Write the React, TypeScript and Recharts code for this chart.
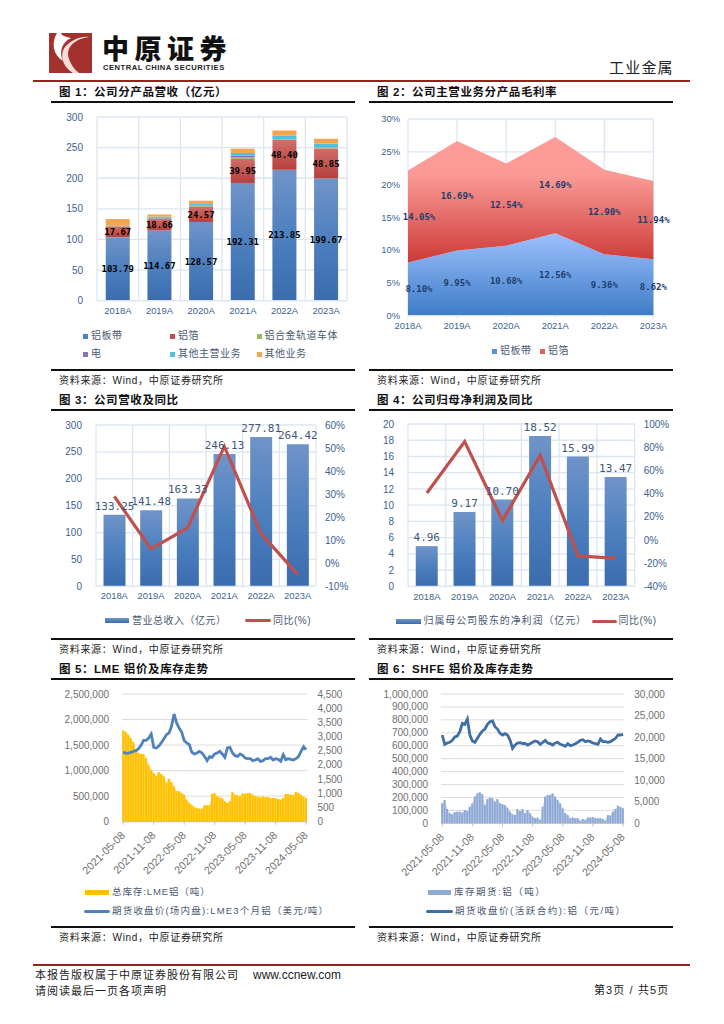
import React from 'react';
import {
  Area,
  Bar,
  CartesianGrid,
  ComposedChart,
  LabelList,
  Line,
  XAxis,
  YAxis,
} from 'recharts';

const years = ['2018A', '2019A', '2020A', '2021A', '2022A', '2023A'];

// chart 1
const foilStrip = [103.79, 114.67, 128.57, 192.31, 213.85, 199.67];
const foil = [17.67, 18.66, 24.57, 39.95, 48.4, 48.85];
const railBody = [1.5, 1, 1.2, 1.5, 1, 1.5];
const power = [0, 1, 1, 3.5, 0.5, 0.5];
const otherMain = [0.3, 2, 2.5, 4, 6, 6];
const otherBiz = [10, 3.5, 5.5, 7, 8.06, 7.9];

// chart 2
const marginStrip = [8.1, 9.95, 10.68, 12.56, 9.36, 8.62];
const marginFoil = [14.05, 16.69, 12.54, 14.69, 12.9, 11.94];

// chart 3
const revenue = [133.25, 141.48, 163.33, 246.13, 277.81, 264.42];
const revenueYoy = [29, 6.2, 15.4, 50.7, 12.9, -4.8];

// chart 4
const profit = [4.96, 9.17, 10.7, 18.52, 15.99, 13.47];
const profitYoy = [40.5, 84.9, 16.7, 73, -13.7, -15.8];

// chart 5
const lmeStock = [
  1788000, 1756000, 1704000, 1638000, 1560000, 1410000, 1345000, 1325000, 1325000, 1247000,
  1116000, 1018000, 953000, 888000, 973000, 933000, 888000, 757000, 842000, 777000,
  692000, 594000, 594000, 561000, 529000, 431000, 366000, 333000, 281000, 268000,
  255000, 255000, 320000, 320000, 320000, 542000, 561000, 496000, 476000, 463000,
  398000, 366000, 398000, 581000, 529000, 516000, 496000, 555000, 542000, 561000,
  561000, 529000, 496000, 490000, 476000, 496000, 476000, 483000, 463000, 463000,
  463000, 444000, 431000, 463000, 542000, 542000, 529000, 516000, 581000, 561000,
  529000, 490000, 463000,
];
const lmePrice = [
  2456, 2409, 2420, 2444, 2479, 2503, 2573, 2691, 2867, 2867,
  2949, 3090, 2620, 2597, 2667, 2785, 2926, 3067, 3126, 3361,
  3795, 3478, 3302, 3161, 2855, 2773, 2714, 2444, 2385, 2420,
  2479, 2420, 2303, 2150, 2291, 2268, 2385, 2420, 2479, 2385,
  2268, 2597, 2620, 2420, 2327, 2303, 2385, 2338, 2244, 2221,
  2221, 2150, 2174, 2221, 2127, 2150, 2221, 2221, 2268, 2174,
  2221, 2197, 2127, 2362, 2186, 2221, 2197, 2174, 2221, 2291,
  2479, 2644, 2538,
];

// chart 6
const shfeStock = [
  154600, 180400, 110800, 77300, 69600, 85000, 90200, 90200, 82500, 103100,
  95300, 128900, 154600, 206200, 231900, 239700, 224200, 141700, 188100, 198400,
  193300, 167500, 188100, 154600, 146900, 141700, 121100, 90200, 69600, 64400,
  110800, 95300, 110800, 77300, 103100, 77300, 51500, 38700, 43800, 25800,
  128900, 206200, 219000, 219000, 231900, 206200, 180400, 154600, 116000, 77300,
  64400, 38700, 43800, 38700, 38700, 20600, 33500, 25800, 43800, 43800,
  49000, 38700, 38700, 38700, 33500, 20600, 64400, 59300, 90200, 110800,
  136600, 126300, 116000,
];
const shfePrice = [
  20485, 18320, 18630, 18784, 19248, 20021, 20253, 21258, 23190, 22958,
  24195, 20485, 19093, 18784, 19712, 20639, 21412, 21876, 22958, 23577,
  23731, 22417, 21876, 20871, 20485, 20794, 20485, 19325, 17393, 18166,
  18630, 18707, 18475, 18552, 18166, 18475, 18784, 19093, 18939, 18320,
  18784, 19248, 18630, 18475, 18166, 18630, 18784, 18320, 18166, 17856,
  18475, 18011, 18166, 18475, 18784, 19248, 19402, 18939, 19093, 18939,
  18630, 18475, 18320, 19557, 18939, 18939, 18784, 18939, 19325, 19712,
  20485, 20485, 20639,
];

const halfMonths: string[] = [];
for (let i = 0; i < lmePrice.length; i++) {
  const m = 4 + Math.floor(i / 2);
  const yy = 2021 + Math.floor(m / 12);
  const mm = String((m % 12) + 1).padStart(2, '0');
  halfMonths.push(`${yy}-${mm}-${i % 2 === 0 ? '08' : '23'}`);
}

const chart1Rows = years.map((year, i) => ({
  year,
  foilStrip: foilStrip[i],
  foil: foil[i],
  railBody: railBody[i],
  power: power[i],
  otherMain: otherMain[i],
  otherBiz: otherBiz[i],
}));
const chart2Rows = years.map((year, i) => ({ year, strip: marginStrip[i], foil: marginFoil[i] }));
const chart3Rows = years.map((year, i) => ({ year, value: revenue[i], yoy: revenueYoy[i] }));
const chart4Rows = years.map((year, i) => ({ year, value: profit[i], yoy: profitYoy[i] }));
const chart5Rows = halfMonths.map((date, i) => ({ date, stock: lmeStock[i], price: lmePrice[i] }));
const chart6Rows = halfMonths.map((date, i) => ({ date, stock: shfeStock[i], price: shfePrice[i] }));

const SANS = '"Liberation Sans", "Noto Sans CJK SC", sans-serif';
const MONO = '"DejaVu Sans Mono", "Liberation Mono", monospace';
const BLUE_TEXT = '#3c5f8f';
const LEGEND_TEXT = '#4a5a72';
const GRID_BLUE = '#dce6f2';
const GRAY_TEXT = '#6f6f6f';

const PAD = { left: 60, right: 45, top: 20, bottom: 70 };

type Plot = { x0: number; x1: number; y0: number; y1: number };

function Frame({ plot, children }: { plot: Plot; children: (size: { width: number; height: number }) => React.ReactNode }) {
  const width = plot.x1 - plot.x0 + PAD.left + PAD.right;
  const height = plot.y1 - plot.y0 + PAD.top + PAD.bottom;
  return (
    <div style={{ position: 'absolute', left: plot.x0 - PAD.left, top: plot.y0 - PAD.top, width, height }}>
      {children({ width, height })}
    </div>
  );
}

const chartMargin = { top: PAD.top, right: 0, bottom: 0, left: 0 };

const bandLines = (count: number) => ({ offset }: any) => {
  const out: number[] = [];
  for (let i = 0; i <= count; i++) out.push(offset.left + (offset.width * i) / count);
  return out;
};

function BlueGradient({ id }: { id: string }) {
  return (
    <linearGradient id={id} x1="0" y1="0" x2="0" y2="1">
      <stop offset="0%" stopColor="#7094c8" />
      <stop offset="50%" stopColor="#4d80bf" />
      <stop offset="100%" stopColor="#3a6cae" />
    </linearGradient>
  );
}

function Title({ x, y, text }: { x: number; y: number; text: string }) {
  return (
    <div style={{ position: 'absolute', left: x, top: y - 9, height: 18, lineHeight: '18px', fontSize: 11.5, fontWeight: 700, letterSpacing: 0.6, color: '#111', whiteSpace: 'nowrap' }}>
      {text}
    </div>
  );
}

function Rule({ x0, x1, y, color = '#111', h = 2 }: { x0: number; x1: number; y: number; color?: string; h?: number }) {
  return <div style={{ position: 'absolute', left: x0, top: y - h / 2, width: x1 - x0, height: h, background: color }} />;
}

function Source({ x, y }: { x: number; y: number }) {
  return (
    <div style={{ position: 'absolute', left: x, top: y - 8, height: 16, lineHeight: '16px', fontSize: 10, letterSpacing: 0.7, color: '#222', whiteSpace: 'nowrap' }}>
      资料来源：Wind，中原证券研究所
    </div>
  );
}

type Swatch = 'square' | 'bar' | 'line';

function Key({ x, y, w, kind, color, text, gap = 3, size = 10, spacing = 0.5 }: { x: number; y: number; w: number; kind: Swatch; color: string; text: string; gap?: number; size?: number; spacing?: number }) {
  const h = kind === 'square' ? w : kind === 'bar' ? 5 : 3;
  return (
    <>
      <div style={{ position: 'absolute', left: x, top: y - h / 2, width: w, height: h, background: color, borderRadius: kind === 'line' ? 1.5 : 0 }} />
      <div style={{ position: 'absolute', left: x + w + gap, top: y - 8, height: 16, lineHeight: '16px', fontSize: size, letterSpacing: spacing, color: LEGEND_TEXT, whiteSpace: 'nowrap' }}>
        {text}
      </div>
    </>
  );
}

const blueBar = 'linear-gradient(#7094c8, #3a6cae)';

function Chart1() {
  const plot = { x0: 96.7, x1: 346.7, y0: 117.3, y1: 301 };
  const labelStyle = { fontFamily: MONO, fontSize: 9, fontWeight: 700, fill: '#000' };
  return (
    <Frame plot={plot}>
      {({ width, height }) => (
        <ComposedChart width={width} height={height} data={chart1Rows} margin={{ ...chartMargin, right: PAD.right }} barCategoryGap="21%">
          <defs>
            <BlueGradient id="c1blue" />
            <linearGradient id="c1red" x1="0" y1="0" x2="0" y2="1">
              <stop offset="0%" stopColor="#d06e6b" />
              <stop offset="100%" stopColor="#b5403c" />
            </linearGradient>
          </defs>
          <CartesianGrid stroke={GRID_BLUE} strokeWidth={1.3} verticalCoordinatesGenerator={bandLines(6)} />
          <XAxis dataKey="year" height={PAD.bottom} tickLine={false} tickSize={0} tickMargin={7} axisLine={{ stroke: GRID_BLUE, strokeWidth: 1.3 }} tick={{ fontSize: 9.4, fill: BLUE_TEXT, fontFamily: SANS }} />
          <YAxis width={PAD.left} domain={[0, 300]} ticks={[0, 50, 100, 150, 200, 250, 300]} tickLine={false} tickSize={0} tickMargin={14} axisLine={false} tick={{ fontSize: 10, fill: BLUE_TEXT, fontFamily: SANS }} />
          <Bar dataKey="foilStrip" stackId="a" fill="url(#c1blue)" isAnimationActive={false}>
            <LabelList dataKey="foilStrip" position="center" style={labelStyle} formatter={(v: number) => v.toFixed(2)} />
          </Bar>
          <Bar dataKey="foil" stackId="a" fill="url(#c1red)" isAnimationActive={false}>
            <LabelList dataKey="foil" position="center" style={labelStyle} formatter={(v: number) => v.toFixed(2)} />
          </Bar>
          <Bar dataKey="railBody" stackId="a" fill="#9bbb59" isAnimationActive={false} />
          <Bar dataKey="power" stackId="a" fill="#8f6fb8" isAnimationActive={false} />
          <Bar dataKey="otherMain" stackId="a" fill="#4bc3e0" isAnimationActive={false} />
          <Bar dataKey="otherBiz" stackId="a" fill="#f8a44c" isAnimationActive={false} />
        </ComposedChart>
      )}
    </Frame>
  );
}

function Chart2() {
  const plot = { x0: 408.3, x1: 653.7, y0: 119, y1: 315.7 };
  const pxPerPoint = (plot.y1 - plot.y0) / 30;
  const marginLabel = (values: number[]) => (props: any) => {
    const { x, y, index } = props;
    const v = values[index];
    const dx = index === 0 ? 11 : 0;
    return (
      <text x={x + dx} y={y + (v / 2) * pxPerPoint} textAnchor="middle" dominantBaseline="central" fontFamily={MONO} fontSize={9} fontWeight={700} fill="#1f3f6e">
        {v.toFixed(2)}%
      </text>
    );
  };
  return (
    <Frame plot={plot}>
      {({ width, height }) => (
        <ComposedChart width={width} height={height} data={chart2Rows} margin={{ ...chartMargin, right: PAD.right }}>
          <defs>
            <linearGradient id="c2blue" x1="0" y1="0" x2="0" y2="1">
              <stop offset="0%" stopColor="#9cc0fd" />
              <stop offset="100%" stopColor="#3f7cc7" />
            </linearGradient>
            <linearGradient id="c2red" x1="0" y1="0" x2="0" y2="1">
              <stop offset="0%" stopColor="#fe9c98" />
              <stop offset="30%" stopColor="#fa9a96" />
              <stop offset="100%" stopColor="#cd3a37" />
            </linearGradient>
          </defs>
          <CartesianGrid stroke={GRID_BLUE} strokeWidth={1.3} />
          <XAxis dataKey="year" scale="point" height={PAD.bottom} tickLine={{ stroke: GRID_BLUE }} tickSize={3} tickMargin={4} axisLine={{ stroke: GRID_BLUE, strokeWidth: 1.3 }} tick={{ fontSize: 9.4, fill: BLUE_TEXT, fontFamily: SANS }} />
          <YAxis width={PAD.left} domain={[0, 30]} ticks={[0, 5, 10, 15, 20, 25, 30]} tickLine={false} tickSize={0} tickMargin={8} axisLine={false} tickFormatter={(v: number) => `${v}%`} tick={{ fontSize: 9.4, fill: BLUE_TEXT, fontFamily: SANS }} />
          <Area dataKey="strip" stackId="m" type="linear" stroke="none" fill="url(#c2blue)" fillOpacity={1} isAnimationActive={false} label={marginLabel(marginStrip)} />
          <Area dataKey="foil" stackId="m" type="linear" stroke="none" fill="url(#c2red)" fillOpacity={1} isAnimationActive={false} label={marginLabel(marginFoil)} />
        </ComposedChart>
      )}
    </Frame>
  );
}

function ValueYoyChart({ plot, rows, gradId, leftTicks, rightTicks, leftMax, labelFormat }: { plot: Plot; rows: any[]; gradId: string; leftTicks: number[]; rightTicks: number[]; leftMax: number; labelFormat: (v: number) => string }) {
  return (
    <Frame plot={plot}>
      {({ width, height }) => (
        <ComposedChart width={width} height={height} data={rows} margin={chartMargin} barCategoryGap="20.5%">
          <defs>
            <BlueGradient id={gradId} />
          </defs>
          <CartesianGrid yAxisId="left" stroke={GRID_BLUE} strokeWidth={1.3} verticalCoordinatesGenerator={bandLines(6)} />
          <XAxis dataKey="year" height={PAD.bottom} tickLine={false} tickSize={0} tickMargin={6.5} axisLine={{ stroke: GRID_BLUE, strokeWidth: 1.3 }} tick={{ fontSize: 9.4, fill: BLUE_TEXT, fontFamily: SANS }} />
          <YAxis yAxisId="left" width={PAD.left} domain={[0, leftMax]} ticks={leftTicks} interval={0} tickLine={false} tickSize={0} tickMargin={14} axisLine={false} tick={{ fontSize: 10, fill: BLUE_TEXT, fontFamily: SANS }} />
          <YAxis yAxisId="right" orientation="right" width={PAD.right} domain={[rightTicks[0], rightTicks[rightTicks.length - 1]]} ticks={rightTicks} interval={0} tickLine={false} tickSize={0} tickMargin={9} axisLine={false} tickFormatter={(v: number) => `${v}%`} tick={{ fontSize: 10, fill: BLUE_TEXT, fontFamily: SANS, textAnchor: 'start' }} />
          <Bar yAxisId="left" dataKey="value" fill={`url(#${gradId})`} isAnimationActive={false}>
            <LabelList dataKey="value" position="top" offset={5} formatter={labelFormat} style={{ fontFamily: MONO, fontSize: 11, fill: '#3f5878' }} />
          </Bar>
          <Line yAxisId="right" dataKey="yoy" type="linear" stroke="#c0504d" strokeWidth={3.2} dot={false} isAnimationActive={false} />
        </ComposedChart>
      )}
    </Frame>
  );
}

function TrendChart({ plot, rows, areaColor, barColor, lineColor, leftTicks, rightTicks, gridColor }: { plot: Plot; rows: any[]; areaColor: string; barColor: string; lineColor: string; leftTicks: number[]; rightTicks: number[]; gridColor: string }) {
  const axisTick = { fontSize: 10, fill: GRAY_TEXT, fontFamily: SANS };
  return (
    <Frame plot={plot}>
      {({ width, height }) => (
        <ComposedChart width={width} height={height} data={rows} margin={chartMargin} barCategoryGap="4%">
          <CartesianGrid yAxisId="left" vertical={false} stroke={gridColor} />
          <XAxis dataKey="date" interval={11} height={PAD.bottom} tickLine={{ stroke: '#bfbfbf' }} tickSize={3} tickMargin={6} axisLine={{ stroke: '#bfbfbf' }} angle={-45} textAnchor="end" tick={{ ...axisTick, fontSize: 10.8, dx: -3 }} />
          <YAxis yAxisId="left" width={PAD.left} domain={[0, leftTicks[leftTicks.length - 1]]} ticks={leftTicks} interval={0} tickLine={false} tickSize={0} tickMargin={13} axisLine={false} tickFormatter={(v: number) => v.toLocaleString('en-US')} tick={axisTick} />
          <YAxis yAxisId="right" orientation="right" width={PAD.right} domain={[0, rightTicks[rightTicks.length - 1]]} ticks={rightTicks} interval={0} tickLine={false} tickSize={0} tickMargin={10} axisLine={false} tickFormatter={(v: number) => v.toLocaleString('en-US')} tick={axisTick} />
          <Area yAxisId="left" dataKey="stock" type="linear" stroke="none" fill={areaColor} fillOpacity={1} isAnimationActive={false} />
          <Bar yAxisId="left" dataKey="stock" fill={barColor} isAnimationActive={false} />
          <Line yAxisId="right" dataKey="price" type="linear" stroke={lineColor} strokeWidth={2.8} dot={false} isAnimationActive={false} />
        </ComposedChart>
      )}
    </Frame>
  );
}

function Logo() {
  return (
    <>
      <svg style={{ position: 'absolute', left: 49, top: 33 }} width={43} height={40} viewBox="0 0 43 40">
        <rect width={43} height={40} fill="#a3322f" />
        <path d="M8 0 C2 10 4 22 14 28 C10 20 12 10 22 5 C16 4 12 2 12 0 Z" fill="#fff" />
        <path d="M40 4 C26 6 16 14 20 26 C22 32 26 37 30 40 L24 40 C14 34 10 22 16 14 C22 7 32 3 40 4 Z" fill="#f2dcd8" />
      </svg>
      <div style={{ position: 'absolute', left: 102, top: 37, height: 27, lineHeight: '27px', fontSize: 27, fontWeight: 900, letterSpacing: 5.5, color: '#111', whiteSpace: 'nowrap' }}>
        中原证券
      </div>
      <div style={{ position: 'absolute', left: 103, top: 64, height: 8, lineHeight: '8px', fontSize: 7.6, fontWeight: 700, letterSpacing: 0.5, color: '#222', whiteSpace: 'nowrap' }}>
        CENTRAL CHINA SECURITIES
      </div>
    </>
  );
}

export default function App() {
  const L0 = 51;
  const L1 = 355;
  const R0 = 369;
  const R1 = 673;
  return (
    <div style={{ position: 'absolute', left: 0, top: 0, width: 724, height: 1024, background: '#fff', overflow: 'hidden', fontFamily: SANS }}>
      <Logo />
      <div style={{ position: 'absolute', left: 609, top: 58, height: 20, lineHeight: '20px', fontSize: 15, letterSpacing: 1.2, color: '#222', whiteSpace: 'nowrap' }}>工业金属</div>
      <Rule x0={33} x1={690} y={81} color="#9c1f1c" h={2} />

      <Title x={59} y={92} text="图 1：公司分产品营收（亿元）" />
      <Title x={377} y={92} text="图 2：公司主营业务分产品毛利率" />
      <Rule x0={L0} x1={L1} y={102} />
      <Rule x0={R0} x1={R1} y={102} />

      <Chart1 />
      <Chart2 />

      <Key x={83} y={336} w={5} kind="square" color="#4f81bd" text="铝板带" />
      <Key x={170} y={336} w={5} kind="square" color="#c0504d" text="铝箔" />
      <Key x={256.5} y={336} w={5} kind="square" color="#9bbb59" text="铝合金轨道车体" />
      <Key x={83} y={354} w={5} kind="square" color="#8f6fb8" text="电" />
      <Key x={170} y={354} w={5} kind="square" color="#4bc3e0" text="其他主营业务" />
      <Key x={256.5} y={354} w={5} kind="square" color="#f8a44c" text="其他业务" />
      <Key x={492} y={351} w={5} kind="square" color="#5a93dd" text="铝板带" />
      <Key x={540} y={351} w={5} kind="square" color="#e0605c" text="铝箔" />

      <Rule x0={L0} x1={L1} y={369.5} />
      <Rule x0={R0} x1={R1} y={369.5} />
      <Source x={59} y={381} />
      <Source x={377} y={381} />

      <Title x={59} y={400} text="图 3：公司营收及同比" />
      <Title x={377} y={400} text="图 4：公司归母净利润及同比" />
      <Rule x0={L0} x1={L1} y={409.5} />
      <Rule x0={R0} x1={R1} y={409.5} />

      <ValueYoyChart
        plot={{ x0: 96, x1: 316, y0: 425, y1: 586.3 }}
        rows={chart3Rows}
        gradId="c3blue"
        leftMax={300}
        leftTicks={[0, 50, 100, 150, 200, 250, 300]}
        rightTicks={[-10, 0, 10, 20, 30, 40, 50, 60]}
        labelFormat={(v: number) => v.toFixed(2)}
      />
      <ValueYoyChart
        plot={{ x0: 408.3, x1: 635, y0: 424.3, y1: 586.7 }}
        rows={chart4Rows}
        gradId="c4blue"
        leftMax={20}
        leftTicks={[0, 2, 4, 6, 8, 10, 12, 14, 16, 18, 20]}
        rightTicks={[-40, -20, 0, 20, 40, 60, 80, 100]}
        labelFormat={(v: number) => v.toFixed(2)}
      />

      <Key x={105} y={620.7} w={24} kind="bar" color={blueBar} text="营业总收入（亿元）" />
      <Key x={245} y={620.7} w={26} kind="line" color="#c0504d" text="同比(%)" gap={2} />
      <Key x={396} y={621} w={24.5} kind="bar" color={blueBar} text="归属母公司股东的净利润（亿元）" spacing={0.9} />
      <Key x={591.5} y={621} w={25} kind="line" color="#c0504d" text="同比(%)" gap={2} />

      <Rule x0={L0} x1={L1} y={639} />
      <Rule x0={R0} x1={R1} y={639} />
      <Source x={59} y={650} />
      <Source x={377} y={650} />

      <Title x={59} y={669} text="图 5：LME 铝价及库存走势" />
      <Title x={377} y={669} text="图 6：SHFE 铝价及库存走势" />
      <Rule x0={L0} x1={L1} y={679} />
      <Rule x0={R0} x1={R1} y={679} />

      <TrendChart
        plot={{ x0: 122.3, x1: 307.7, y0: 694.3, y1: 822 }}
        rows={chart5Rows}
        areaColor="#ffd966"
        barColor="#ffc000"
        lineColor="#4f81bd"
        gridColor="#dcdcdc"
        leftTicks={[0, 500000, 1000000, 1500000, 2000000, 2500000]}
        rightTicks={[0, 500, 1000, 1500, 2000, 2500, 3000, 3500, 4000, 4500]}
      />
      <TrendChart
        plot={{ x0: 440.7, x1: 624, y0: 694, y1: 823.3 }}
        rows={chart6Rows}
        areaColor="#c9d6ec"
        barColor="#8fa9d6"
        lineColor="#3e6fa9"
        gridColor="#dcdcdc"
        leftTicks={[0, 100000, 200000, 300000, 400000, 500000, 600000, 700000, 800000, 900000, 1000000]}
        rightTicks={[0, 5000, 10000, 15000, 20000, 25000, 30000]}
      />

      <Key x={85} y={892} w={24} kind="bar" color="#ffc000" text="总库存:LME铝（吨）" size={9.5} spacing={0.9} />
      <Key x={84} y={911} w={26} kind="line" color="#4f81bd" text="期货收盘价(场内盘):LME3个月铝（美元/吨）" gap={2} size={9.5} spacing={1.2} />
      <Key x={427.5} y={892} w={23.5} kind="bar" color="#8fa9d6" text="库存期货:铝（吨）" size={9.5} spacing={1.5} />
      <Key x={426} y={911} w={27} kind="line" color="#3e6fa9" text="期货收盘价(活跃合约):铝（元/吨）" gap={2} size={9.5} spacing={1.5} />

      <Rule x0={L0} x1={L1} y={927} />
      <Rule x0={R0} x1={R1} y={927} />
      <Source x={59} y={938} />
      <Source x={377} y={938} />

      <Rule x0={33} x1={690} y={965} color="#9c1f1c" h={2} />
      <div style={{ position: 'absolute', left: 35, top: 967, height: 16, lineHeight: '16px', fontSize: 11, letterSpacing: 1, color: '#222', whiteSpace: 'nowrap' }}>本报告版权属于中原证券股份有限公司</div>
      <div style={{ position: 'absolute', left: 253, top: 967, height: 16, lineHeight: '16px', fontSize: 12, color: '#222', whiteSpace: 'nowrap' }}>www.ccnew.com</div>
      <div style={{ position: 'absolute', left: 35, top: 983, height: 16, lineHeight: '16px', fontSize: 11, letterSpacing: 1, color: '#222', whiteSpace: 'nowrap' }}>请阅读最后一页各项声明</div>
      <div style={{ position: 'absolute', left: 594, top: 982, height: 16, lineHeight: '16px', fontSize: 11, letterSpacing: 1.1, color: '#222', whiteSpace: 'nowrap' }}>第3页 / 共5页</div>
    </div>
  );
}
